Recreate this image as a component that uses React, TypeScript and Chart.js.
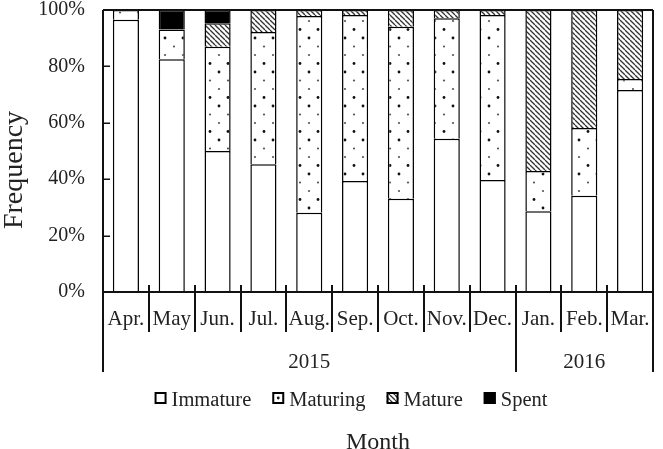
import React, { useEffect, useRef } from 'react';
import { Chart, registerables } from 'chart.js';

Chart.register(...registerables);

// ---- data ----
const months = ['Apr.', 'May', 'Jun.', 'Jul.', 'Aug.', 'Sep.', 'Oct.', 'Nov.', 'Dec.', 'Jan.', 'Feb.', 'Mar.'];
const yearLabels = ['2015', '2016'];
const yearSpans = [9, 3];
const seriesNames = ['Immature', 'Maturing', 'Mature', 'Spent'];
const immature = [96.5, 82.5, 50.0, 45.3, 28.1, 39.4, 33.1, 54.3, 39.7, 28.6, 34.1, 71.6];
const maturing = [3.5, 10.6, 37.0, 46.9, 69.8, 58.8, 61.0, 42.8, 58.5, 14.3, 24.1, 3.9];
const mature = [0, 0, 8.3, 7.8, 2.1, 1.8, 5.9, 2.9, 1.8, 57.1, 41.8, 24.5];
const spent = [0, 6.9, 4.7, 0, 0, 0, 0, 0, 0, 0, 0, 0];
const xTitle = 'Month';
const yTitle = 'Frequency';

const FONT = '"Liberation Serif", "Times New Roman", serif';
const TEXT = '#222';
const LINE = '#111';

function makeDots(): CanvasPattern {
  const c = document.createElement('canvas');
  c.width = 18;
  c.height = 34;
  const g = c.getContext('2d')!;
  g.fillStyle = '#fff';
  g.fillRect(0, 0, 18, 34);
  const dot = (x: number, y: number, r: number, col: string) => {
    g.fillStyle = col;
    g.beginPath();
    g.arc(x, y, r, 0, Math.PI * 2);
    g.fill();
  };
  dot(3, 4, 1.4, '#111');
  dot(12, 12.5, 1.1, '#555');
  dot(3, 21, 1.1, '#555');
  dot(12, 29.5, 1.4, '#111');
  return g.createPattern(c, 'repeat')!;
}

function makeHatch(): CanvasPattern {
  const s = 5;
  const c = document.createElement('canvas');
  c.width = s;
  c.height = s;
  const g = c.getContext('2d')!;
  g.fillStyle = '#fff';
  g.fillRect(0, 0, s, s);
  g.strokeStyle = '#333';
  g.lineWidth = 1.3;
  for (const k of [-1, 0, 1]) {
    g.beginPath();
    g.moveTo(k * s, 0);
    g.lineTo(k * s + s, s);
    g.stroke();
  }
  return g.createPattern(c, 'repeat')!;
}

export default function App() {
  const ref = useRef<HTMLCanvasElement>(null);

  useEffect(() => {
    const canvas = ref.current!;
    const dots = makeDots();
    const hatch = makeHatch();
    const fills: (string | CanvasPattern)[] = ['#fff', dots, hatch, '#000'];

    const decor = {
      id: 'decor',
      afterDraw(chart: any) {
        const ctx: CanvasRenderingContext2D = chart.ctx;
        const { left, right, top, bottom } = chart.chartArea;
        const xs = chart.scales.x;
        const ys = chart.scales.y;
        const bottomEnd = 372;
        ctx.save();
        ctx.strokeStyle = LINE;
        ctx.lineWidth = 2;
        ctx.beginPath();
        ctx.moveTo(left, top);
        ctx.lineTo(left, bottomEnd);
        ctx.moveTo(right, top);
        ctx.lineTo(right, bottomEnd);
        ctx.moveTo(left, top);
        ctx.lineTo(right, top);
        ctx.moveTo(left, bottom);
        ctx.lineTo(right, bottom);
        ctx.stroke();

        // y inner ticks
        ctx.lineWidth = 1.5;
        ctx.beginPath();
        for (let v = 0; v <= 100; v += 20) {
          const y = Math.round(ys.getPixelForValue(v)) + 0.25;
          ctx.moveTo(left, y);
          ctx.lineTo(left + 7, y);
        }
        ctx.stroke();

        // category boundaries
        const yearBounds = new Set<number>();
        let acc = 0;
        yearSpans.forEach((s) => { acc += s; yearBounds.add(acc); });
        ctx.lineWidth = 2;
        ctx.beginPath();
        for (let i = 1; i < months.length; i++) {
          const x = Math.round((xs.getPixelForValue(i - 1) + xs.getPixelForValue(i)) / 2);
          ctx.moveTo(x, bottom - 7);
          ctx.lineTo(x, yearBounds.has(i) ? bottomEnd : 332);
        }
        ctx.stroke();

        // year labels
        ctx.fillStyle = TEXT;
        ctx.font = `21px ${FONT}`;
        ctx.textAlign = 'center';
        ctx.textBaseline = 'alphabetic';
        let start = 0;
        yearLabels.forEach((lab, k) => {
          const end = start + yearSpans[k];
          const x0 = k === 0 ? left : (xs.getPixelForValue(start - 1) + xs.getPixelForValue(start)) / 2;
          const x1 = end >= months.length ? right : (xs.getPixelForValue(end - 1) + xs.getPixelForValue(end)) / 2;
          ctx.fillText(lab, (x0 + x1) / 2, 368);
          start = end;
        });

        // legend
        ctx.font = `20.5px ${FONT}`;
        ctx.textAlign = 'left';
        const box = 12;
        const gapText = 5;
        const gapItem = 21;
        const widths = seriesNames.map((n) => ctx.measureText(n).width);
        const total = widths.reduce((a, w) => a + box + gapText + w, 0) + gapItem * (seriesNames.length - 1);
        let lx = 351 - total / 2;
        const by = 392;
        seriesNames.forEach((n, k) => {
          ctx.fillStyle = k === 1 ? '#fff' : (fills[k] as any);
          ctx.fillRect(lx, by, box, box);
          if (k === 1) {
            ctx.fillStyle = '#111';
            ctx.beginPath();
            ctx.arc(lx + box / 2, by + box / 2, 1.4, 0, Math.PI * 2);
            ctx.fill();
          }
          ctx.strokeStyle = '#000';
          ctx.lineWidth = 2;
          ctx.strokeRect(lx + 1, by + 1, box - 2, box - 2);
          ctx.fillStyle = TEXT;
          ctx.fillText(n, lx + box + gapText, 406);
          lx += box + gapText + widths[k] + gapItem;
        });

        // axis titles
        ctx.font = `24px ${FONT}`;
        ctx.textAlign = 'center';
        ctx.fillText(xTitle, (left + right) / 2, 449);
        ctx.save();
        ctx.translate(22, 170);
        ctx.rotate(-Math.PI / 2);
        ctx.font = `28px ${FONT}`;
        ctx.fillText(yTitle, 0, 0);
        ctx.restore();
        ctx.restore();
      },
    };

    const series = [immature, maturing, mature, spent];
    const chart = new Chart(canvas, {
      type: 'bar',
      data: {
        labels: months,
        datasets: series.map((d, k) => ({
          label: seriesNames[k],
          data: d,
          backgroundColor: fills[k] as any,
          borderColor: '#000',
          borderWidth: 1.5,
          categoryPercentage: 1,
          barPercentage: 0.57,
        })),
      },
      options: {
        responsive: false,
        animation: false,
        layout: { padding: { left: 0, right: 10, top: 0, bottom: 0 } },
        plugins: { legend: { display: false }, tooltip: { enabled: false }, title: { display: false } },
        scales: {
          x: {
            stacked: true,
            grid: { display: false, drawTicks: true, tickLength: 15 },
            border: { display: false },
            ticks: {
              font: { family: FONT, size: 21 },
              color: TEXT,
              padding: 0,
              maxRotation: 0,
              autoSkip: false,
            },
            afterFit: (s: any) => { s.height = 157; },
          },
          y: {
            stacked: true,
            min: 0,
            max: 100,
            grid: { display: false, drawTicks: true, tickLength: 18 },
            border: { display: false },
            ticks: {
              stepSize: 20,
              callback: (v: any) => `${v}%`,
              font: { family: FONT, size: 20, lineHeight: 1 },
              color: TEXT,
              padding: 0,
            },
            afterFit: (s: any) => { s.width = 103; },
          },
        },
      },
      plugins: [decor],
    });
    return () => chart.destroy();
  }, []);

  return (
    <div style={{ position: 'fixed', left: 0, top: 0, width: 663, height: 449, background: '#fff' }}>
      <canvas ref={ref} width={663} height={449} style={{ display: 'block' }} />
    </div>
  );
}
